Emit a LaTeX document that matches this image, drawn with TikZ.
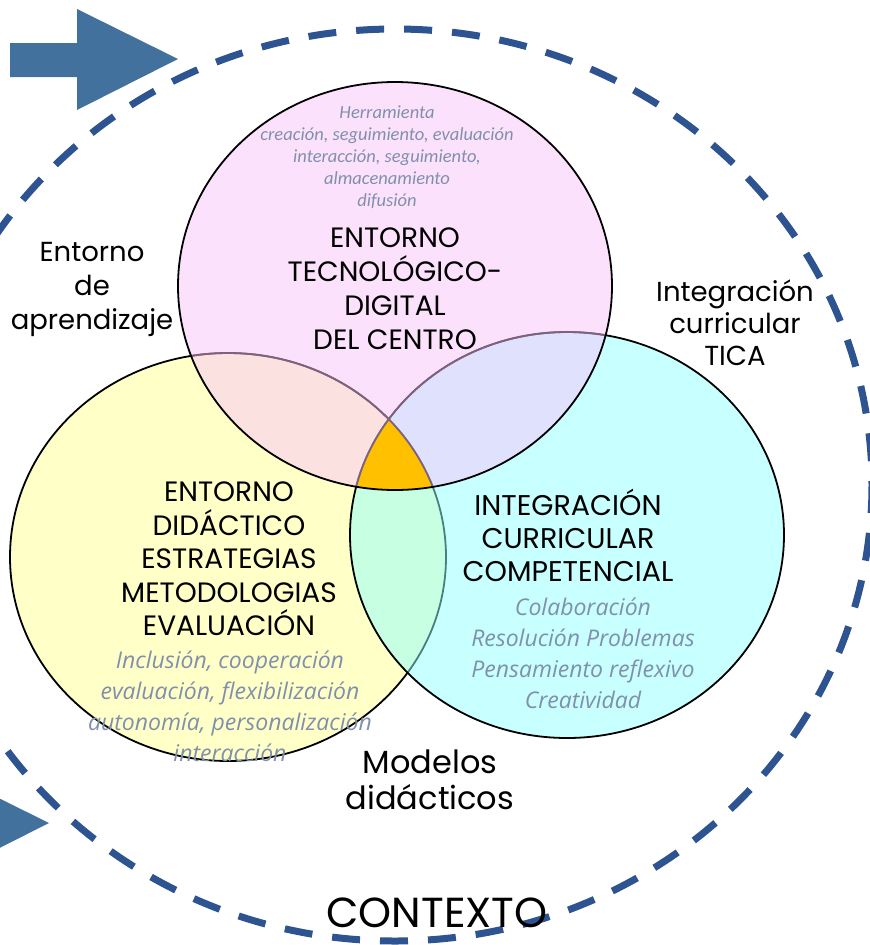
\documentclass[tikz,border=0pt]{standalone}
\usepackage{fontspec}
\usepackage{xcolor}
\setmainfont{Poppins}
\newfontfamily\notefont{Carlito}
\newfontfamily\listfont{Open Sans}
\definecolor{ctxblue}{RGB}{46,83,145}
\definecolor{arrowblue}{RGB}{65,113,156}
\definecolor{notegray}{RGB}{128,144,172}
\definecolor{pinkfill}{RGB}{249,196,249}
\definecolor{cyanfill}{RGB}{145,255,255}
\definecolor{yellowfill}{RGB}{255,255,200}
\definecolor{coreorange}{RGB}{255,192,0}
\definecolor{fadedline}{RGB}{125,98,125}

\begin{document}
\begin{tikzpicture}[x=1pt, y=-1pt,
  vennline/.style={black, line width=1.8},
  bigtext/.style={inner sep=0.75pt, align=center, font=\fontsize{28}{34}\selectfont},
  notetext/.style={inner sep=0.75pt, align=center, text=notegray, font=\listfont\itshape\fontsize{23}{31}\selectfont}]
\useasboundingbox (0,0) rectangle (870,945);
\clip (0,0) rectangle (870,945);
\coordinate (ctx) at (395,485);
\coordinate (tec) at (395,286);
\coordinate (did) at (228,557);
\coordinate (cur) at (567,535);
%Context
\draw [ctxblue, line width=7, dash pattern=on 28 off 20] (ctx) ellipse [x radius=477, y radius=456];
\fill [arrowblue] (10,43) -- (77,43) -- (77,9) -- (178,59) -- (77,110) -- (77,77) -- (10,77) -- cycle;
\fill [arrowblue, shift={(-129,764)}] (10,43) -- (77,43) -- (77,9) -- (178,59) -- (77,110) -- (77,77) -- (10,77) -- cycle;
%Circles
\fill [yellowfill] (did) ellipse [x radius=218, y radius=204];
\draw [vennline] (did) ellipse [x radius=218, y radius=204];
\fill [cyanfill, fill opacity=0.5] (cur) ellipse [x radius=217, y radius=203];
\draw [vennline] (cur) ellipse [x radius=217, y radius=203];
\fill [pinkfill, fill opacity=0.5] (tec) ellipse [x radius=217, y radius=204];
\begin{scope}
\clip (did) ellipse [x radius=218, y radius=204];
\clip (cur) ellipse [x radius=217, y radius=203];
\fill [coreorange] (tec) ellipse [x radius=217, y radius=204];
\end{scope}
\begin{scope}
\clip (tec) ellipse [x radius=217, y radius=204];
\draw [fadedline, line width=1.8] (did) ellipse [x radius=218, y radius=204];
\draw [fadedline, line width=1.8] (cur) ellipse [x radius=217, y radius=203];
\end{scope}
\draw [vennline] (tec) ellipse [x radius=217, y radius=204];
%Text
\node [notetext, font=\notefont\itshape\fontsize{18.5}{22}\selectfont] (tecnote) at (387,157) {Herramienta\\creación, seguimiento, evaluación\\interacción, seguimiento,\\almacenamiento\\difusión};
\node [bigtext] (teclabel) at (395,289) {ENTORNO\\TECNOLÓGICO-\\DIGITAL\\DEL CENTRO};
\node [bigtext, font=\fontsize{27.5}{34}\selectfont] (aprend) at (92,289) {Entorno\\de\\aprendizaje};
\node [bigtext, font=\fontsize{27.5}{32}\selectfont] (tica) at (735,323) {Integración\\curricular\\TICA};
\node [bigtext, font=\fontsize{28}{33.5}\selectfont] (didlabel) at (229,559) {ENTORNO\\DIDÁCTICO\\ESTRATEGIAS\\METODOLOGIAS\\EVALUACIÓN};
\node [notetext] (didnote) at (230,706) {Inclusión, cooperación\\evaluación, flexibilización\\autonomía, personalización\\interacción};
\node [bigtext, font=\fontsize{28.5}{33}\selectfont] (curlabel) at (568,535) {INTEGRACIÓN\\CURRICULAR\\COMPETENCIAL};
\node [notetext] (curnote) at (583,653) {Colaboración\\Resolución Problemas\\Pensamiento reflexivo\\Creatividad};
\node [bigtext, font=\fontsize{32}{36}\selectfont] (modelos) at (430,780) {Modelos\\didácticos};
\node [bigtext, font=\fontsize{42}{50}\selectfont] (contexto) at (437,913) {CONTEXTO};
\end{tikzpicture}
\end{document}
